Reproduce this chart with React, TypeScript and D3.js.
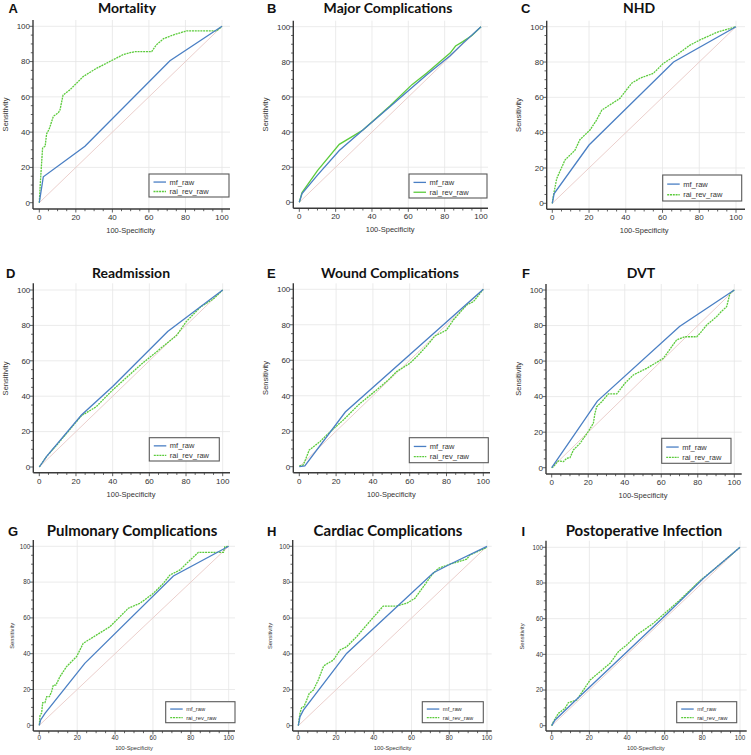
import React from 'react';
import * as d3 from 'd3';

type Pt = [number, number];

const titles = ['Mortality', 'Major Complications', 'NHD', 'Readmission', 'Wound Complications', 'DVT', 'Pulmonary Complications', 'Cardiac Complications', 'Postoperative Infection'];
const letters = ['A', 'B', 'C', 'D', 'E', 'F', 'G', 'H', 'I'];
const seriesNames = ['mf_raw', 'rai_rev_raw'];
const xTicks = [0, 20, 40, 60, 80, 100];
const yTicks = [0, 20, 40, 60, 80, 100];
const minorTicks = d3.range(0, 101, 5);
const xLabel = '100-Specificity';
const yLabel = 'Sensitivity';

const mortalityMf: Pt[] = [[0, 0], [2.2, 14.7], [25, 32], [71.5, 80.5], [100, 100]];
const mortalityRai: Pt[] = [[0, 0], [0.5, 10], [0.8, 15], [1.8, 31], [3.2, 32], [4, 39], [5.5, 42], [7.7, 49], [10.4, 51], [11.3, 52.5], [13, 61], [16.8, 64], [24, 71.5], [31, 76], [46, 84], [52, 85.6], [61.5, 85.6], [64, 89.4], [68, 93], [73, 95], [80.6, 97.4], [97, 97.4], [100, 100]];

const majorMf: Pt[] = [[0, 0], [1.5, 5], [10, 15.5], [22, 29.5], [35, 41.2], [50, 54.5], [70, 72.5], [83, 83.5], [90, 90.5], [100, 100]];
const majorRai: Pt[] = [[0, 0], [1.5, 5.5], [10, 18], [22, 33], [30, 38], [35, 41.2], [50, 55], [62, 67], [70, 73.5], [83, 85], [86, 89], [90, 91.5], [95, 95], [100, 100]];

const nhdMf: Pt[] = [[0, 0], [1, 5.5], [20, 33], [66, 80], [100, 100]];
const nhdRai: Pt[] = [[0, 0], [0.5, 3.8], [2.4, 14], [6.9, 24.5], [12.3, 30], [15, 36], [20.5, 41.5], [24, 47], [27, 52.8], [36.8, 59.4], [43.2, 68], [47.7, 70.8], [55, 73.6], [60.4, 79.2], [67.7, 84], [75, 89.6], [80.4, 92.5], [89.5, 96.8], [100, 100]];

const readmMf: Pt[] = [[0, 0], [4, 6], [23, 29.4], [40, 45.5], [70, 76.5], [100, 100]];
const readmRai: Pt[] = [[0, 0], [4, 6], [10, 13], [23, 29], [31, 34], [40, 43.5], [55, 57.5], [75, 74.5], [80, 82], [88, 90.5], [95, 95], [100, 100]];

const woundMf: Pt[] = [[0, 0], [3, 0.5], [25, 30.8], [100, 100]];
const woundRai: Pt[] = [[0, 0.4], [2.2, 1], [5.4, 9.4], [11.2, 14.1], [14.9, 17.9], [23.9, 26.3], [33, 35.7], [42, 43.2], [49.3, 49.8], [52.9, 53.6], [60.1, 58.3], [63.8, 62], [69.2, 68], [73.7, 73.7], [80, 77], [83.7, 82.7], [91, 91.2], [94.6, 93], [100, 100]];

const dvtMf: Pt[] = [[0, 0], [25, 37.5], [70, 79.5], [100, 100]];
const dvtRai: Pt[] = [[0, 0], [0.9, 0.6], [3.6, 3.8], [6.4, 3.4], [8.2, 5.3], [10, 5.6], [11.9, 10], [15.5, 13.7], [20, 20.3], [22.8, 25], [23.7, 30.6], [24.6, 34.3], [27.4, 37.1], [31, 41.5], [35.6, 41.5], [40.1, 47.5], [44.7, 52.2], [52, 55.9], [61.1, 61.5], [68.4, 71.9], [73, 73.7], [79.4, 73.7], [81.2, 75.6], [84.9, 80.3], [90.3, 85], [93, 88], [95.8, 90.6], [97.6, 98], [100, 100]];

const pulmMf: Pt[] = [[0, 0], [0.7, 3], [3, 6.7], [24, 34.6], [70.8, 83.4], [100, 100]];
const pulmRai: Pt[] = [[0, 0], [0.4, 5.8], [1.2, 6.7], [1.8, 12.7], [3, 12.7], [3.9, 16], [5.3, 16], [6.5, 18.8], [7.4, 22.5], [8.8, 22.5], [10.9, 27.2], [14.4, 32.8], [19.7, 38.4], [23.2, 45.8], [30.3, 50.5], [37.3, 55.1], [44.4, 62.6], [47, 65.4], [53.2, 68.2], [60.2, 73.7], [65.5, 79.3], [69, 84], [74.3, 86.8], [78.7, 91.4], [84, 96.6], [97.2, 96.6], [98, 99.8], [100, 100]];

const cardMf: Pt[] = [[0, 0], [0.9, 5], [2.7, 8.7], [25.6, 40.3], [71.6, 85.3], [80.4, 90], [100, 100]];
const cardRai: Pt[] = [[0, 0], [0.4, 3.2], [0.9, 6.9], [1.8, 10.2], [3, 10.6], [4.1, 13.4], [5.8, 18], [8, 19.9], [10.6, 25.5], [13.3, 32.9], [14.1, 33.8], [18.6, 36.6], [22.1, 42.2], [25.6, 44], [30.9, 49.6], [36.2, 56.1], [45, 66.7], [52.1, 66.7], [57.4, 68.2], [61.8, 71], [66.3, 77.5], [70.7, 84], [74.2, 87.7], [80.4, 90], [89.2, 92.8], [91, 95.2], [100, 99.4]];

const infMf: Pt[] = [[0, 0], [1.8, 3.2], [13, 14.5], [40, 41.5], [61, 62.5], [80.5, 82.5], [100, 100]];
const infRai: Pt[] = [[0, 0], [0.9, 2.2], [3.5, 6.9], [7.1, 9.7], [8.8, 12.9], [13.3, 14.4], [20.4, 25.6], [25.7, 30.3], [31, 35], [35.4, 41.5], [39.8, 45.2], [45.1, 50.8], [54, 57.4], [61, 63.9], [68.1, 70.5], [78.8, 81.3], [85.8, 87.3], [100, 100]];

const mfSeries = [mortalityMf, majorMf, nhdMf, readmMf, woundMf, dvtMf, pulmMf, cardMf, infMf];
const raiSeries = [mortalityRai, majorRai, nhdRai, readmRai, woundRai, dvtRai, pulmRai, cardRai, infRai];
const raiSolid = [false, true, false, false, false, false, false, false, false];

// layout (pixels)
interface Layout {
  L: number; R: number; T: number; B: number;
  x0: number; x100: number; y0: number; y100: number;
  titleX: number; titleY: number; letterX: number;
  sensX: number; leg: [number, number, number, number]; small: boolean;
}
const layouts: Layout[] = [
  { L: 33, R: 230, T: 20, B: 209, x0: 39.3, x100: 222, y0: 202.7, y100: 26.3, titleX: 127, titleY: 13, letterX: 8.5, sensX: 5, leg: [149, 174, 80, 23], small: false },
  { L: 293.3, R: 488, T: 20.7, B: 208.3, x0: 299.3, x100: 481, y0: 202.3, y100: 26.7, titleX: 388, titleY: 13, letterX: 267, sensX: 265, leg: [409, 174, 78, 24], small: false },
  { L: 546.7, R: 745, T: 20.7, B: 209.3, x0: 552.3, x100: 736, y0: 203.3, y100: 26.7, titleX: 639, titleY: 13, letterX: 521, sensX: 518, leg: [662.7, 175, 79, 26], small: false },
  { L: 33.3, R: 230, T: 283.3, B: 472.7, x0: 39.3, x100: 222.7, y0: 467, y100: 290, titleX: 131, titleY: 278, letterX: 6, sensX: 5, leg: [149.3, 437.7, 70, 23.3], small: false },
  { L: 293.3, R: 490, T: 283.3, B: 472.7, x0: 299.3, x100: 483.3, y0: 466.7, y100: 289.3, titleX: 390, titleY: 277.5, letterX: 267, sensX: 265, leg: [409.3, 437.7, 79, 25], small: false },
  { L: 546, R: 741.7, T: 284, B: 474, x0: 551.7, x100: 734.3, y0: 467.7, y100: 290, titleX: 641, titleY: 278, letterX: 522, sensX: 518, leg: [661.7, 438.3, 69.3, 25], small: false },
  { L: 33.3, R: 235, T: 540, B: 731, x0: 39.3, x100: 228.7, y0: 725.3, y100: 546.3, titleX: 132, titleY: 535.5, letterX: 8, sensX: 12, leg: [165.7, 701.7, 69.3, 21], small: true },
  { L: 292.7, R: 491.7, T: 540, B: 731, x0: 298.3, x100: 487, y0: 725.7, y100: 546.3, titleX: 388, titleY: 535.5, letterX: 267, sensX: 270, leg: [422.3, 701.7, 61, 21], small: true },
  { L: 546, R: 746.7, T: 540.7, B: 731, x0: 551.7, x100: 740, y0: 725.7, y100: 547.3, titleX: 644, titleY: 536, letterX: 521.5, sensX: 522, leg: [676.7, 701.7, 60, 21], small: true },
];

const BLUE = '#4a7fc4';
const GREEN = '#5ccb3c';
const AXIS = '#3a3a3a';
const GRID = '#e6e6e6';
const DIAG = '#e9c9c6';
const SANS = '"Liberation Sans", Arial, Helvetica, sans-serif';
const TITLE_FONT = 'Lato, "Open Sans", sans-serif';

function Panel({ i }: { i: number }) {
  const lay = layouts[i];
  const x = d3.scaleLinear().domain([0, 100]).range([lay.x0, lay.x100]);
  const y = d3.scaleLinear().domain([0, 100]).range([lay.y0, lay.y100]);
  const line = d3.line<Pt>().x(d => x(d[0])).y(d => y(d[1]));
  const tickFs = lay.small ? 6.3 : 8;
  const labFs = lay.small ? 5.8 : 7.5;
  const legFs = lay.small ? 5.8 : 7.5;
  const titleFs = lay.small ? 15 : 14;
  const [lx, ly, lw, lh] = lay.leg;
  return (
    <g>
      {/* grid */}
      {xTicks.filter(t => t > 0).map(t => (
        <line key={'gx' + t} x1={x(t)} x2={x(t)} y1={lay.T} y2={lay.B} stroke={GRID} strokeWidth={0.8} />
      ))}
      {yTicks.filter(t => t > 0).map(t => (
        <line key={'gy' + t} x1={lay.L} x2={lay.R} y1={y(t)} y2={y(t)} stroke={GRID} strokeWidth={0.8} />
      ))}
      {/* diagonal */}
      <line x1={x(0)} y1={y(0)} x2={x(100)} y2={y(100)} stroke={DIAG} strokeWidth={0.9} />
      {/* curves */}
      <path d={line(raiSeries[i]) || ''} fill="none" stroke={GREEN} strokeWidth={1.3} strokeDasharray={raiSolid[i] ? undefined : '2 0.8'} />
      <path d={line(mfSeries[i]) || ''} fill="none" stroke={BLUE} strokeWidth={1.3} />
      {/* axes */}
      <line x1={lay.L} x2={lay.L} y1={lay.T} y2={lay.B} stroke={AXIS} strokeWidth={1.4} />
      <line x1={lay.L} x2={lay.R} y1={lay.B} y2={lay.B} stroke={AXIS} strokeWidth={1.4} />
      {minorTicks.map(t => (
        <line key={'tx' + t} x1={x(t)} x2={x(t)} y1={lay.B} y2={lay.B + (t % 20 === 0 ? 3.5 : 2.2)} stroke={AXIS} strokeWidth={0.8} />
      ))}
      {minorTicks.map(t => (
        <line key={'ty' + t} x1={lay.L} x2={lay.L - (t % 20 === 0 ? 3.5 : 2.2)} y1={y(t)} y2={y(t)} stroke={AXIS} strokeWidth={0.8} />
      ))}
      {xTicks.map(t => (
        <text key={'lx' + t} x={x(t)} y={lay.B + (lay.small ? 8.8 : 10.8)} textAnchor="middle" fontSize={tickFs} fill="#333" fontFamily={SANS}>{t}</text>
      ))}
      {yTicks.map(t => (
        <text key={'ly' + t} x={lay.L - 3} y={y(t)} dy="0.35em" textAnchor="end" fontSize={tickFs} fill="#333" fontFamily={SANS}>{t}</text>
      ))}
      <text x={(lay.x0 + lay.x100) / 2} y={lay.B + (lay.small ? 18.5 : 24)} textAnchor="middle" fontSize={labFs} fill="#333" fontFamily={SANS}>{xLabel}</text>
      <text transform={`translate(${lay.sensX},${(lay.y0 + lay.y100) / 2}) rotate(-90)`} dy="0.35em" textAnchor="middle" fontSize={labFs} fill="#333" fontFamily={SANS}>{yLabel}</text>
      {/* legend */}
      <rect x={lx} y={ly} width={lw} height={lh} fill="white" stroke="#5a5a5a" strokeWidth={1.1} />
      {seriesNames.map((name, k) => {
        const ry = ly + lh * (k === 0 ? 0.35 : 0.76);
        return (
          <g key={name}>
            <line x1={lx + 4.5} x2={lx + 17} y1={ry} y2={ry} stroke={k === 0 ? BLUE : GREEN} strokeWidth={1.3} strokeDasharray={k === 1 && !raiSolid[i] ? '2 0.8' : undefined} />
            <text x={lx + 20.5} y={ry} dy="0.35em" fontSize={legFs} fill="#333" fontFamily={SANS}>{name}</text>
          </g>
        );
      })}
      {/* title & letter */}
      <text x={lay.titleX} y={lay.titleY} textAnchor="middle" fontSize={titleFs} fontWeight={700} fill="#111" fontFamily={TITLE_FONT}>{titles[i]}</text>
      <text x={lay.letterX} y={lay.titleY} fontSize={13} fontWeight={700} fill="#111" fontFamily={SANS}>{letters[i]}</text>
    </g>
  );
}

export default function App() {
  return (
    <svg width={751} height={755} viewBox="0 0 751 755" style={{ position: 'absolute', left: 0, top: 0, background: 'white', display: 'block' }}>
      <rect x={0} y={0} width={751} height={755} fill="white" />
      {titles.map((_, i) => <Panel key={i} i={i} />)}
    </svg>
  );
}
